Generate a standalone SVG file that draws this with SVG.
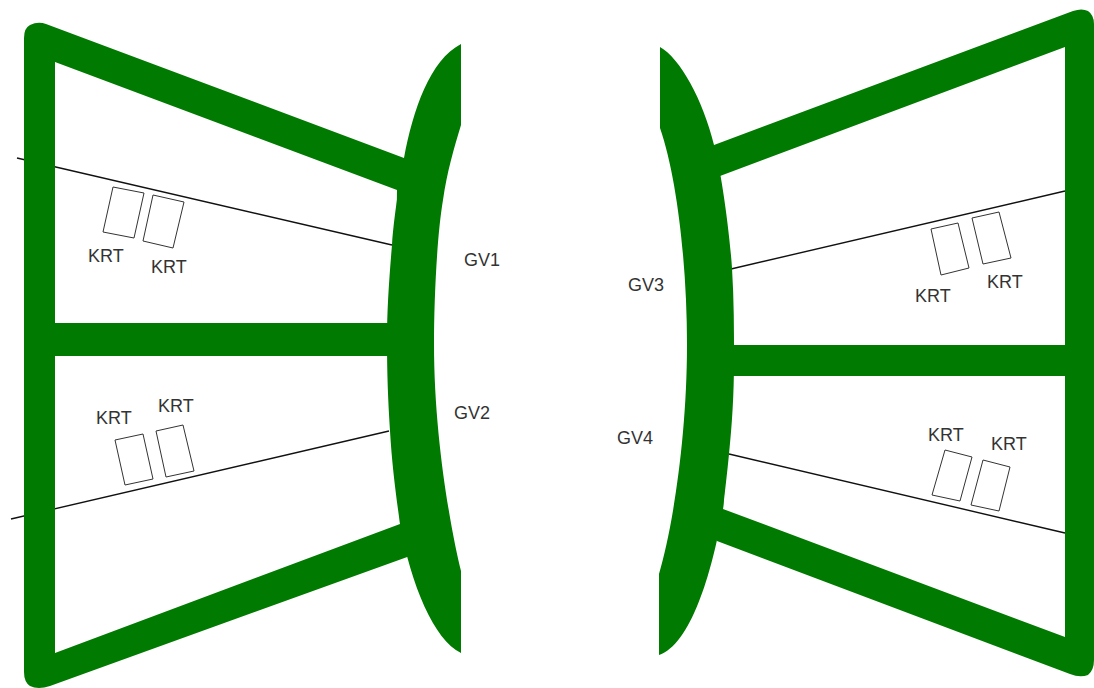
<svg xmlns="http://www.w3.org/2000/svg" width="1094" height="688" viewBox="0 0 1094 688">
<style>
.g{fill:#007a00;stroke:none;fill-rule:evenodd}
.l{fill:none;stroke:#111;stroke-width:1.4}
.k{fill:#fff;stroke:#333;stroke-width:1}
text{font-family:"Liberation Sans",Arial,sans-serif;font-size:18px;fill:#333}
</style>
<rect width="1094" height="688" fill="#fff"/>
<g id="connectors">
<path class="l" d="M17 158L392 245"/>
<path class="l" d="M11 519L389 431"/>
<path class="l" d="M731 269L1065 191"/>
<path class="l" d="M729 454L1065 533"/>
</g>
<g id="frame-left">
<path class="g" d="M46 24L404 158L420 160L410 556L50 686Q38 690 30 686Q24 682 24 672L24 38Q24 28 30 25Q38 21 46 24ZM55 62L55 323L395 323L397 190ZM55 356L55 653L400 524L395 356Z"/>
</g>
<g id="GV1-GV2">
<path class="g" d="M461 44C430 60 413 110 404 158C400 180 394 215 392 245C389 280 387 310 387 340C387 375 388 400 390 431C392 465 396 495 400 524C411 585 434 640 461 653L461 571C452 535 434 440 434 344C434 300 437 235 443 200C447 172 454 148 461 125Z"/>
</g>
<g id="frame-right">
<path class="g" d="M1073 11Q1082 8 1088 11Q1094 15 1094 24L1094 660Q1094 670 1088 675Q1080 678 1070 674L717 541L700 520L700 150L714 145ZM1065 47L720 176L733 345L1065 345ZM1065 376L733 376L723 509L1065 637Z"/>
</g>
<g id="GV3-GV4">
<path class="g" d="M660 47C680 58 703 100 714 145C720 165 729 225 732 268C734 300 734 330 734 360C734 395 732 425 729 454C727 475 725 490 723 509C712 575 690 645 659 655L659 574C672 530 687 440 687 344C687 270 678 180 660 128Z"/>
</g>
<g id="krt-1"><path class="k" d="M113 187L144 193L134 238L103 232Z"/><text x="88" y="262">KRT</text></g>
<g id="krt-2"><path class="k" d="M153 195L184 202L173 248L143 241Z"/><text x="151" y="273">KRT</text></g>
<g id="krt-3"><path class="k" d="M115 440L143 434L153 479L125 485Z"/><text x="96" y="424">KRT</text></g>
<g id="krt-4"><path class="k" d="M156 431L183 425L194 471L166 477Z"/><text x="158" y="412">KRT</text></g>
<g id="krt-5"><path class="k" d="M931 229L958 223L969 268L941 275Z"/><text x="915" y="302">KRT</text></g>
<g id="krt-6"><path class="k" d="M972 218L999 212L1011 258L983 264Z"/><text x="987" y="288">KRT</text></g>
<g id="krt-7"><path class="k" d="M945 450L972 457L960 501L932 495Z"/><text x="928" y="441">KRT</text></g>
<g id="krt-8"><path class="k" d="M983 460L1010 467L999 511L971 505Z"/><text x="991" y="450">KRT</text></g>
<g id="label-GV1"><text x="464" y="266">GV1</text></g>
<g id="label-GV2"><text x="454" y="419">GV2</text></g>
<g id="label-GV3"><text x="628" y="291">GV3</text></g>
<g id="label-GV4"><text x="617" y="444">GV4</text></g>
</svg>
